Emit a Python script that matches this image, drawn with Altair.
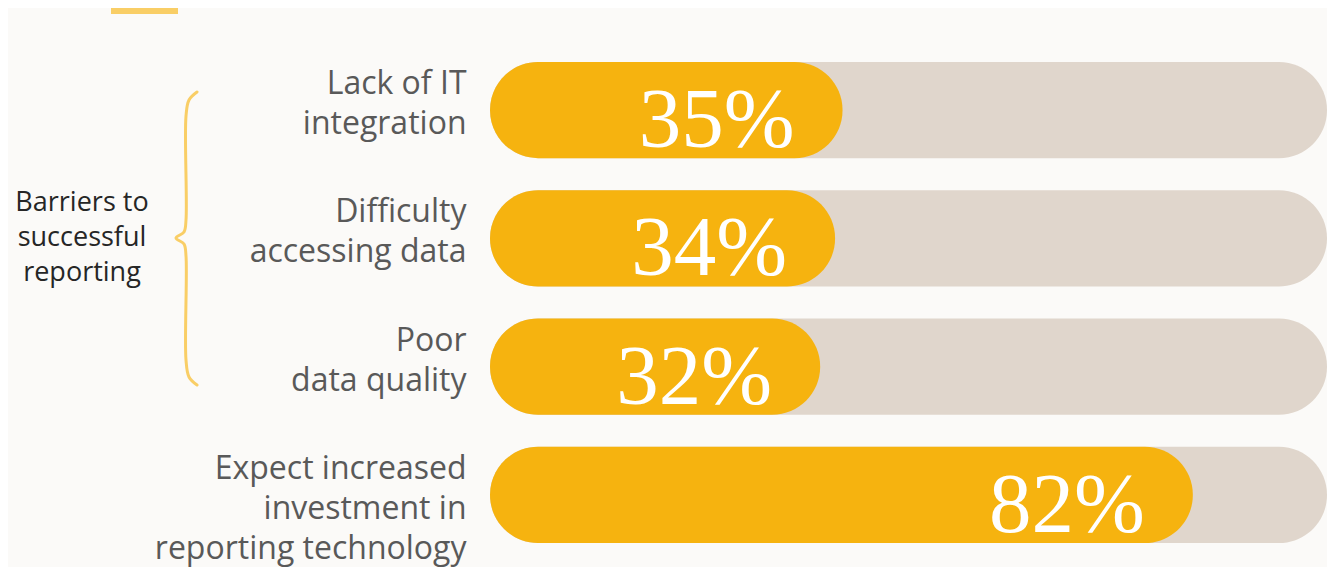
import altair as alt
import pandas as pd

categories = [
    "Lack of IT\nintegration",
    "Difficulty\naccessing data",
    "Poor\ndata quality",
    "Expect increased\ninvestment in\nreporting technology",
]
values = [35, 34, 32, 82]
value_labels = ["35%", "34%", "32%", "82%"]
full = [100, 100, 100, 100]
group_label = "Barriers to\nsuccessful\nreporting"

# bracket decoration (pixel offsets from plot origin)
brace_x = [-293, -301, -304, -304, -306, -314, -306, -304, -304, -301, -293]
brace_y = [42, 50, 66, 170, 182, 188, 194, 206, 310, 327, 335]

df = pd.DataFrame({"cat": categories, "value": values, "label": value_labels, "full": full})
brace = pd.DataFrame({"x": brace_x, "y": brace_y, "o": list(range(len(brace_x)))})

BG = "#FBFAF8"
YEL = "#F6B30F"
TRACK = "#E0D6CC"
LIGHT = "#F9CE66"

xs = alt.Scale(domain=[-12.3, 100], nice=False, zero=False)
ys = alt.Scale(paddingInner=0.25, paddingOuter=0.093)
yenc = alt.Y(
    "cat:N",
    sort=None,
    scale=ys,
    axis=alt.Axis(
        title=None,
        domain=False,
        ticks=False,
        labelExpr="split(datum.label, '\\n')",
        labelFont="Open Sans",
        labelFontSize=32,
        labelColor="#595959",
        labelPadding=24,
        labelBaseline="top",
        labelOffset=-41,
        labelLineHeight=40,
        labelLimit=600,
    ),
)

base = alt.Chart(df)

track = base.mark_bar(color=TRACK, cornerRadius=48).encode(
    x=alt.X("full:Q", scale=xs, axis=None, stack=None), x2=alt.value(0), y=yenc
)
bars = base.mark_bar(color=YEL, cornerRadius=48).encode(
    x=alt.X("value:Q", scale=xs, axis=None, stack=None), x2=alt.value(0), y=yenc
)
nums = base.mark_text(
    font="Liberation Serif", fontSize=85, color="white", align="right",
    baseline="alphabetic", dx=-48, dy=37
).encode(
    x=alt.X("value:Q", scale=xs, axis=None, stack=None), y=yenc, text="label:N"
)

group_text = alt.Chart(pd.DataFrame({"t": [group_label]})).mark_text(
    font="Open Sans", fontSize=27, color="#262626", align="center",
    baseline="middle", lineBreak="\n", lineHeight=35
).encode(x=alt.value(-408), y=alt.value(153), text="t:N")

brace_line = alt.Chart(brace).mark_line(
    color=LIGHT, strokeWidth=3, interpolate="catmull-rom", strokeCap="round"
).encode(
    x=alt.X("x:Q", scale=None), y=alt.Y("y:Q", scale=None), order="o:Q"
)

top_bar = alt.Chart(pd.DataFrame({"a": [0]})).mark_rule(
    color=LIGHT, strokeWidth=8
).encode(x=alt.value(-379), x2=alt.value(-312), y=alt.value(-40))

chart = alt.layer(track, bars, nums, group_text, brace_line, top_bar).properties(
    width=837, height=505,
    autosize=alt.AutoSizeParams(type="none"),
    padding={"left": 482, "top": 42, "right": 0, "bottom": 20},
    background=BG,
).configure_view(stroke=None)

chart.save("out.html", embed_options={"renderer": "svg", "actions": False})
